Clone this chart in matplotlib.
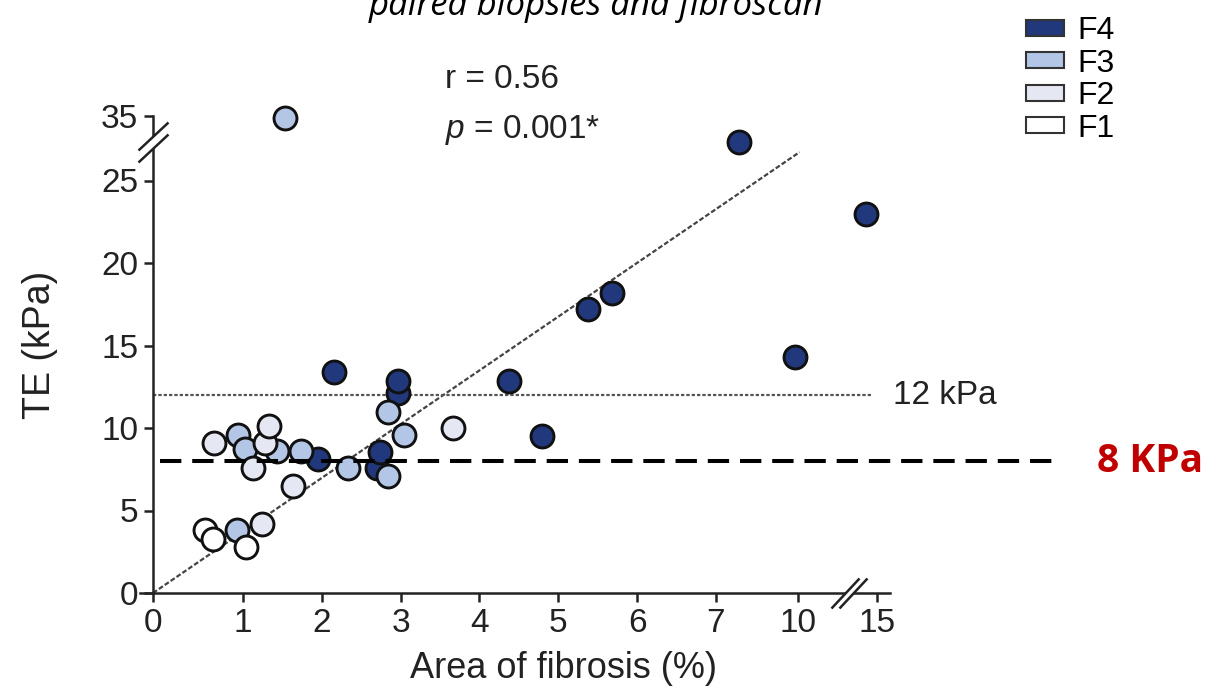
import numpy as np
import matplotlib
matplotlib.use('Agg')
import matplotlib.pyplot as plt
from matplotlib.patches import Patch
from matplotlib.path import Path
from matplotlib.transforms import blended_transform_factory

plt.rcParams['font.family'] = ['Liberation Sans', 'DejaVu Sans']
plt.rcParams['mathtext.fontset'] = 'custom'
plt.rcParams['mathtext.it'] = 'Liberation Sans:italic'
plt.rcParams['mathtext.rm'] = 'Liberation Sans'

# Area of fibrosis (%) vs transient elastography (kPa), by fibrosis stage
f4_x = [1.95, 2.15, 2.70, 2.74, 2.96, 2.96, 4.37, 4.79, 5.37, 5.68, 7.84, 9.89, 14.3]
f4_y = [8.1, 13.4, 7.6, 8.55, 12.1, 12.85, 12.85, 9.5, 17.2, 18.2, 31.0, 14.3, 23.0]
f3_x = [1.53, 0.94, 1.03, 1.43, 1.74, 2.33, 2.84, 2.84, 3.04, 0.93]
f3_y = [34.7, 9.6, 8.7, 8.6, 8.6, 7.6, 7.1, 11.0, 9.6, 3.8]
f2_x = [0.68, 1.13, 1.28, 1.33, 3.67, 1.24, 1.63]
f2_y = [9.1, 7.6, 9.1, 10.1, 10.0, 4.2, 6.5]
f1_x = [0.58, 0.67, 1.04]
f1_y = [3.8, 3.3, 2.8]

stages = ['F4', 'F3', 'F2', 'F1']
stage_colors = ['#21397c', '#b3c6e6', '#e5e8f2', '#ffffff']

x_ticks = [0, 1, 2, 3, 4, 5, 6, 7, 10, 15]
y_ticks = [0, 5, 10, 15, 20, 25, 35]

fit_x = [0, 10.1]      # regression line end points
fit_y = [0, 29.4]
cutoff_hi = 12
cutoff_lo = 8

# broken axes as piecewise-linear scales
x_knots = [-2, 0, 1, 7, 10, 15, 40]
x_px = [-27, 153, 243, 716, 798, 877, 1272]
y_knots = [-5, 0, 25, 35, 60]
y_px = [-82.5, 0, 412.5, 477, 638.25]


def fwd_x(v):
    return np.interp(v, x_knots, x_px)


def inv_x(v):
    return np.interp(v, x_px, x_knots)


def fwd_y(v):
    return np.interp(v, y_knots, y_px)


def inv_y(v):
    return np.interp(v, y_px, y_knots)


W, H = 1222, 694
fig = plt.figure(figsize=(W / 100, H / 100), dpi=100)
ax = fig.add_axes([140 / W, 1 - 593 / H, 750 / W, 493 / H])
ax.set_xscale('function', functions=(fwd_x, inv_x))
ax.set_yscale('function', functions=(fwd_y, inv_y))
ax.set_xlim(float(inv_x(140)), float(inv_x(890)))
ax.set_ylim(0, float(inv_y(493)))

ink = '#222222'
for s in ['top', 'right']:
    ax.spines[s].set_visible(False)
ax.spines['left'].set_position(('data', 0))
ax.spines['left'].set_bounds(0, 35)
for s in ['left', 'bottom']:
    ax.spines[s].set_linewidth(1.8)
    ax.spines[s].set_color(ink)

ax.set_xticks(x_ticks)
ax.set_xticklabels([str(t) for t in x_ticks])
ax.set_yticks(y_ticks)
ax.set_yticklabels([str(t) for t in y_ticks])
ax.tick_params(direction='out', length=6.5, width=1.8, color=ink,
               labelsize=24, labelcolor=ink, pad=4)
ax.minorticks_off()

# reference lines
ax.plot(fit_x, fit_y, ls=(0, (2.2, 1.0)), lw=1.6, color='#444444', zorder=2)
ax.plot([0, 14.6], [cutoff_hi, cutoff_hi], ls=(0, (1.5, 0.9)), lw=1.6,
        color='#555555', zorder=2)

# points
for xs, ys, c in [(f4_x, f4_y, stage_colors[0]), (f3_x, f3_y, stage_colors[1]),
                  (f2_x, f2_y, stage_colors[2]), (f1_x, f1_y, stage_colors[3])]:
    ax.plot(xs, ys, 'o', ms=16.5, mfc=c, mec='#111111', mew=2.1, ls='none',
            zorder=3, clip_on=False)

# 8 kPa cut-off runs past the axes
ax.plot([0.08, 26.5], [cutoff_lo, cutoff_lo], color='black', lw=2.9,
        ls=(0, (5.3, 2.7)), zorder=5, clip_on=False)

tr = blended_transform_factory(fig.transFigure, ax.transData)
ax.text(893 / W, cutoff_hi, f'{cutoff_hi} kPa', transform=tr, va='center',
        ha='left', fontsize=24, color=ink)
ax.text(1097 / W, cutoff_lo, f'{cutoff_lo} KPa', transform=tr, va='center',
        ha='left', fontsize=28, fontweight='bold', color='#c00000',
        family='Open Sans')

# axis break marks
codes = [Path.MOVETO, Path.LINETO, Path.MOVETO, Path.LINETO]
xbreak = Path([(-18, -15), (10, 15), (-10, -15), (18, 15)], codes)
xgap = Path([(-4, 0), (4, 0)])
ybreak = Path([(-15, -8), (15, 20), (-15, -20), (15, 8)], codes)
ygap = Path([(0, -6), (0, 6)])
ax.plot([13.2], [0], marker=xgap, ms=8 * 0.72, mfc='none', mec='white',
        mew=5, zorder=5, clip_on=False)
ax.plot([13.2], [0], marker=xbreak, ms=36 * 0.72, mfc='none', mec=ink,
        mew=1.8, zorder=6, clip_on=False)
ax.plot([0], [31.0], marker=ygap, ms=12 * 0.72, mfc='none', mec='white',
        mew=5, zorder=5, clip_on=False)
ax.plot([0], [31.0], marker=ybreak, ms=40 * 0.72, mfc='none', mec=ink,
        mew=1.8, zorder=6, clip_on=False)

# labels and annotations
fig.text(40 / W, 1 - 345 / H, 'TE (kPa)', rotation=90, ha='center',
         va='center', fontsize=27, color=ink)
fig.text(563 / W, 1 - 668 / H, 'Area of fibrosis (%)', ha='center',
         va='center', fontsize=26, color=ink)
fig.text(445 / W, 1 - 80 / H, 'r = 0.56', va='center', fontsize=24, color=ink)
fig.text(445 / W, 1 - 130 / H, '$p$ = 0.001*', va='center', fontsize=24,
         color=ink)
fig.text(596 / W, 1 - 15 / H, 'paired biopsies and fibroscan', ha='center',
         va='baseline', fontsize=25, style='italic', family='Open Sans',
         color='black')

handles = [Patch(facecolor=c, edgecolor='#333333', linewidth=1.5)
           for c in stage_colors]
fig.legend(handles, stages, loc='upper left',
           bbox_to_anchor=(1026 / W, 1 - 16 / H), frameon=False, fontsize=23,
           handlelength=1.2, handleheight=0.4, handletextpad=0.4,
           labelspacing=0.08, borderaxespad=0, borderpad=0)

fig.savefig('out.png', dpi=100)
